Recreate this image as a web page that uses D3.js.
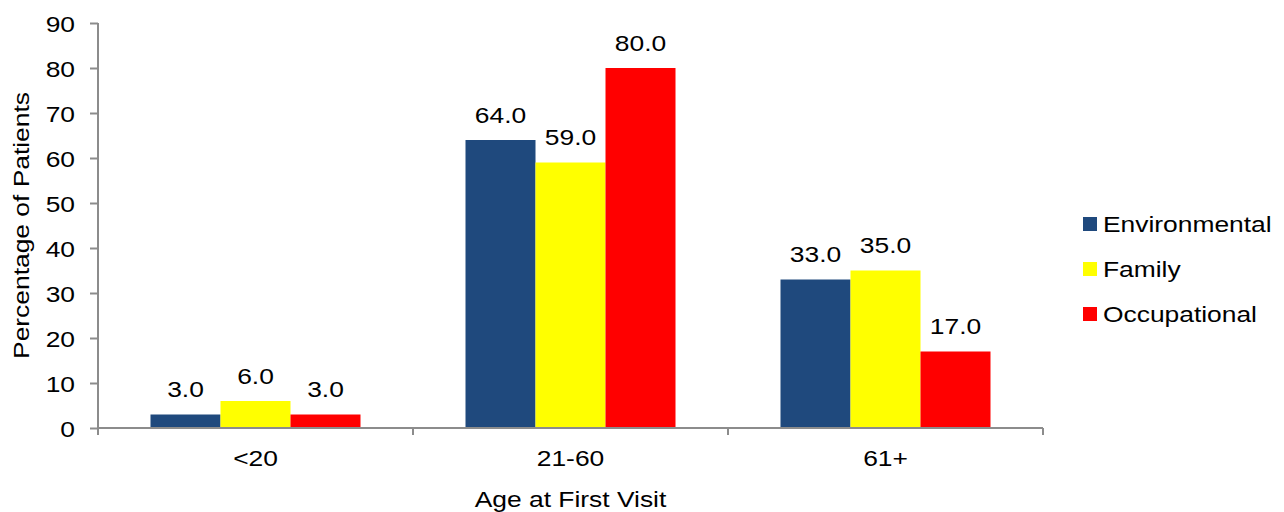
<!DOCTYPE html>
<html>
<head>
<meta charset="utf-8">
<script src="https://cdn.jsdelivr.net/npm/d3@7"></script>
<style>
  html, body { margin: 0; padding: 0; background: #fff; }
  svg { display: block; font-family: "Liberation Sans", Arial, sans-serif; }
</style>
</head>
<body>
<svg id="chart" width="1284" height="512"></svg>
<script>
const categories = ["<20", "21-60", "61+"];
const seriesNames = ["Environmental", "Family", "Occupational"];
const environmental = [3, 64, 33];
const family = [6, 59, 35];
const occupational = [3, 80, 17];
const seriesColors = ["#1F497D", "#FFFF00", "#FF0000"];
const yTicks = [0, 10, 20, 30, 40, 50, 60, 70, 80, 90];
const yTitle = "Percentage of Patients";
const xTitle = "Age at First Visit";

(function () {
const seriesValues = [environmental, family, occupational];
const FS = 22, SX = 1.2, AXIS = "#8C8C8C";

const svg = d3.select("#chart");
const pLeft = 98, pRight = 1043, pTop = 23, pBottom = 428;

const x0 = d3.scaleBand().domain(categories).range([pLeft, pRight]).paddingInner(1/3).paddingOuter(1/6);
const x1 = d3.scaleBand().domain(seriesNames).range([0, x0.bandwidth()]);
const y = d3.scaleLinear().domain([0, 90]).range([pBottom, pTop]);

// bars
categories.forEach((c, ci) => {
  const g = svg.append("g").attr("transform", `translate(${x0(c)},0)`);
  seriesNames.forEach((s, si) => {
    const v = seriesValues[si][ci];
    g.append("rect")
      .attr("x", x1(s)).attr("y", y(v))
      .attr("width", x1.bandwidth()).attr("height", y(0) - y(v))
      .attr("fill", seriesColors[si]);
    g.append("g")
      .attr("transform", `translate(${x1(s) + x1.bandwidth() / 2},${y(v) - 17.5})`)
      .append("text")
      .attr("transform", `scale(${SX},1)`)
      .attr("text-anchor", "middle")
      .attr("font-size", FS).attr("fill", "#000")
      .text(d3.format(".1f")(v));
  });
});

// y axis
const yAxis = svg.append("g").attr("transform", `translate(${pLeft},0)`)
  .call(d3.axisLeft(y).tickValues(yTicks).tickSize(8).tickSizeOuter(0));
yAxis.select(".domain").remove();
yAxis.selectAll(".tick line").attr("stroke", AXIS).attr("stroke-width", 2);
yAxis.selectAll(".tick text")
  .attr("x", 0).attr("dy", "0.4em")
  .attr("transform", `translate(-23,0) scale(${SX},1)`)
  .attr("font-size", FS).attr("fill", "#000")
  .attr("font-family", "Liberation Sans, Arial, sans-serif");
svg.append("line").attr("x1", pLeft).attr("x2", pLeft).attr("y1", pTop).attr("y2", pBottom + 7)
  .attr("stroke", AXIS).attr("stroke-width", 2);

// x axis
const xAxis = svg.append("g").attr("transform", `translate(0,${pBottom})`)
  .call(d3.axisBottom(x0).tickSize(0).tickSizeOuter(0));
xAxis.select(".domain").remove();
xAxis.selectAll(".tick text")
  .attr("y", 0).attr("dy", 0)
  .attr("transform", `translate(0,38) scale(${SX},1)`)
  .attr("font-size", FS).attr("fill", "#000")
  .attr("font-family", "Liberation Sans, Arial, sans-serif");
svg.append("line").attr("x1", pLeft).attr("x2", pRight).attr("y1", pBottom).attr("y2", pBottom)
  .attr("stroke", AXIS).attr("stroke-width", 2);
const boundaries = categories.map(c => x0(c) + x0.bandwidth() + x0.step() * x0.paddingInner() / 2);
svg.selectAll(".xb").data(boundaries).enter().append("line")
  .attr("x1", d => d).attr("x2", d => d).attr("y1", pBottom).attr("y2", pBottom + 7)
  .attr("stroke", AXIS).attr("stroke-width", 2);

// axis titles
svg.append("g").attr("transform", `translate(${(pLeft + pRight) / 2},507)`)
  .append("text").attr("transform", `scale(${SX},1)`)
  .attr("text-anchor", "middle").attr("font-size", FS).attr("fill", "#000").text(xTitle);
svg.append("g").attr("transform", `translate(29,${(pTop + pBottom) / 2}) rotate(-90)`)
  .append("text").attr("transform", `scale(${SX},1)`)
  .attr("text-anchor", "middle").attr("font-size", FS).attr("fill", "#000").text(yTitle);

// legend
const legend = svg.append("g").attr("transform", "translate(1083,224)");
seriesNames.forEach((s, i) => {
  const g = legend.append("g").attr("transform", `translate(0,${i * 45})`);
  g.append("rect").attr("x", 0).attr("y", -7).attr("width", 14).attr("height", 14).attr("fill", seriesColors[i]);
  g.append("g").attr("transform", "translate(20,8)")
    .append("text").attr("transform", `scale(${SX},1)`)
    .attr("font-size", FS).attr("fill", "#000").text(s);
});
})();
</script>
</body>
</html>
